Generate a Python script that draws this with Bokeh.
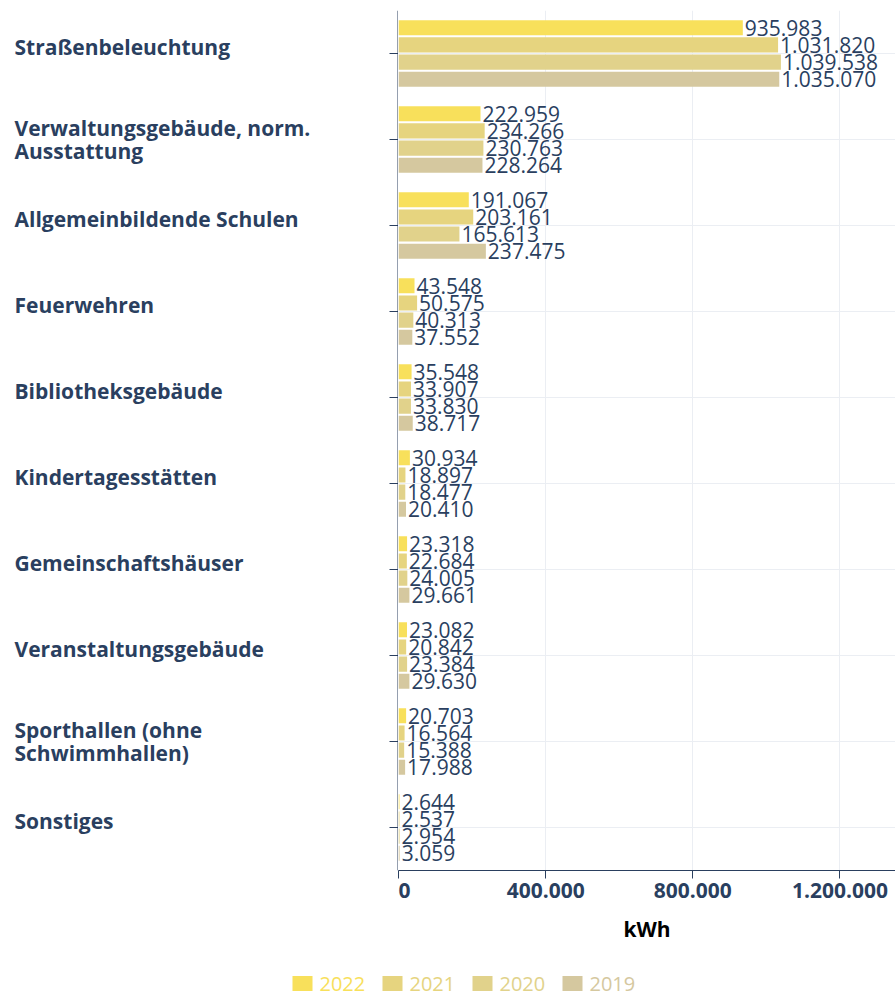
from bokeh.plotting import figure
from bokeh.layouts import column, row
from bokeh.models import ColumnDataSource, FactorRange, Range1d, FixedTicker, Span
from bokeh.transform import dodge
from bokeh.core.properties import value
from bokeh.embed import file_html
from bokeh.resources import INLINE

categories = ["Straßenbeleuchtung",
              "Verwaltungsgebäude, norm.\nAusstattung",
              "Allgemeinbildende Schulen",
              "Feuerwehren",
              "Bibliotheksgebäude",
              "Kindertagesstätten",
              "Gemeinschaftshäuser",
              "Veranstaltungsgebäude",
              "Sporthallen (ohne\nSchwimmhallen)",
              "Sonstiges"]
years = ["2022", "2021", "2020", "2019"]
v2022 = [935983, 222959, 191067, 43548, 35548, 30934, 23318, 23082, 20703, 2644]
v2021 = [1031820, 234266, 203161, 50575, 33907, 18897, 22684, 20842, 16564, 2537]
v2020 = [1039538, 230763, 165613, 40313, 33830, 18477, 24005, 23384, 15388, 2954]
v2019 = [1035070, 228264, 237475, 37552, 38717, 20410, 29661, 29630, 17988, 3059]
series = [v2022, v2021, v2020, v2019]
colors = ["#f8e05b", "#e6d47f", "#e1d28b", "#d5c89f"]
x_ticks = [0, 400000, 800000, 1200000]
x_title = "kWh"

NAVY = "#2a3f5f"
FONT = "Open Sans"
LEFT_W = 398
TOP_H = 950
BORDER_TOP = 10
BORDER_BOTTOM = 80


def de(v):
    return f"{v:,}".replace(",", ".")


data = {"cat": categories,
        "yoff": [0 if "\n" in c else -7 for c in categories]}
for y, vals in zip(years, series):
    data["v" + y] = vals
    data["l" + y] = [de(v) for v in vals]
source = ColumnDataSource(data)

y_range = FactorRange(factors=list(reversed(categories)))

# ---------------- main chart ----------------
p = figure(width=895 - LEFT_W, height=TOP_H, output_backend="svg",
           toolbar_location=None, y_range=y_range,
           x_range=Range1d(0, 1351000), y_axis_location=None,
           min_border_left=0, min_border_right=0, min_border_top=BORDER_TOP,
           min_border_bottom=BORDER_BOTTOM)
p.outline_line_color = None

offsets = [0.3, 0.1, -0.1, -0.3]
for y, off, c in zip(years, offsets, colors):
    p.hbar(y=dodge("cat", off, range=y_range), left=0, right="v" + y,
           height=0.175, fill_color=c, line_color=None, source=source)
    p.text(x="v" + y, y=dodge("cat", off, range=y_range), text="l" + y,
           source=source, x_offset=2, text_baseline="middle", text_align="left",
           text_font=value(FONT), text_font_size="21px", text_color=NAVY)

p.xaxis.ticker = FixedTicker(ticks=x_ticks)
p.xaxis.major_label_overrides = {t: de(t) for t in x_ticks}
p.xaxis.major_label_text_font = FONT
p.xaxis.major_label_text_font_size = "21px"
p.xaxis.major_label_text_font_style = "bold"
p.xaxis.major_label_text_color = NAVY
p.xaxis.major_tick_out = 8
p.xaxis.major_tick_in = 0
p.xaxis.minor_tick_line_color = None
p.xaxis.axis_line_color = NAVY
p.xaxis.major_tick_line_color = NAVY
p.xaxis.major_label_standoff = 4
p.xaxis.axis_label = x_title
p.xaxis.axis_label_text_font = FONT
p.xaxis.axis_label_text_font_size = "21px"
p.xaxis.axis_label_text_font_style = "bold"
p.xaxis.axis_label_text_color = "#000000"
p.xaxis.axis_label_standoff = 14

p.xgrid.grid_line_color = "#ebeef3"
p.ygrid.grid_line_color = "#ebeef3"

# ---------------- category labels + y axis ----------------
lab = figure(width=LEFT_W, height=TOP_H, output_backend="svg",
             toolbar_location=None, y_range=y_range,
             x_range=Range1d(0, LEFT_W), x_axis_location=None,
             y_axis_location=None, min_border_left=0, min_border_right=0,
             min_border_top=BORDER_TOP, min_border_bottom=BORDER_BOTTOM)
lab.outline_line_color = None
lab.xgrid.visible = False
lab.ygrid.visible = False
lab.text(x=14, y="cat", text="cat", source=source, y_offset="yoff",
         text_align="left", text_baseline="middle", text_font=value(FONT),
         text_font_size="21px", text_font_style="bold", text_color=NAVY,
         text_line_height=0.8)
lab.segment(x0=LEFT_W - 9, x1=LEFT_W, y0="cat", y1="cat", source=source,
            line_color=NAVY, line_width=1)
lab.add_layout(Span(location=LEFT_W - 0.5, dimension="height",
                    line_color=NAVY, line_width=1))

# ---------------- legend ----------------
LEG_H = 997 - TOP_H
leg_src = ColumnDataSource({"year": years, "color": colors,
                            "sx": [292 + 90 * i for i in range(len(years))]})
leg = figure(width=895, height=LEG_H, output_backend="svg",
             toolbar_location=None, x_range=Range1d(0, 895),
             y_range=Range1d(0, LEG_H), x_axis_location=None,
             y_axis_location=None, min_border=0)
leg.outline_line_color = None
leg.xgrid.visible = False
leg.ygrid.visible = False
leg.rect(x=dodge("sx", 10), y=14, width=20, height=15, fill_color="color",
         line_color=None, source=leg_src)
leg.text(x=dodge("sx", 27), y=14, text="year", text_color="color",
         source=leg_src, text_baseline="middle", text_align="left",
         text_font=value(FONT), text_font_size="20px")

layout = column(row(lab, p), leg)
open("out.html", "w").write(file_html(layout, INLINE))
